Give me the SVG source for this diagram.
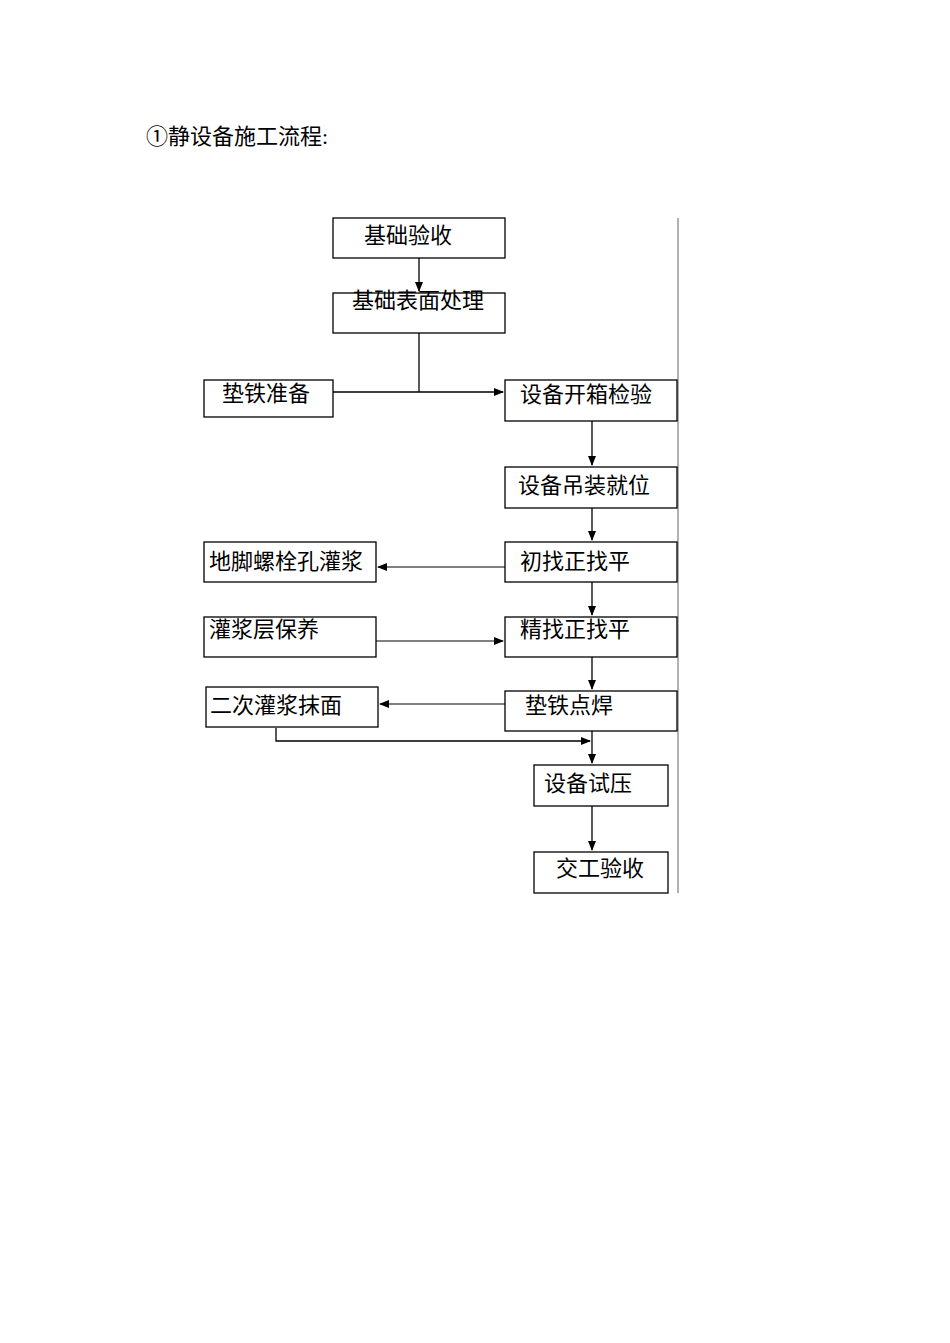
<svg xmlns="http://www.w3.org/2000/svg" width="950" height="1343" viewBox="0 0 950 1343">
<style>
.b{fill:#fff;stroke:#000;stroke-width:1.3}
.t{font-family:"Liberation Serif","Noto Sans CJK SC",serif;font-size:22px;fill:#000}
.c{fill:none;stroke:#000;stroke-width:1.3}
.g{stroke:#555}
</style>
<defs><marker id="a" markerWidth="10" markerHeight="8" refX="9" refY="4" orient="auto" markerUnits="userSpaceOnUse"><path d="M0,0L10,4L0,8z" fill="#000"/></marker></defs>
<rect width="950" height="1343" fill="#fff"/>
<text class="t" x="146" y="144">①静设备施工流程:</text>
<line x1="678" y1="218" x2="678" y2="893" stroke="#999" stroke-width="1.5"/>
<g id="connectors">
<path class="c" d="M419,258V291" marker-end="url(#a)"/>
<path class="c" d="M419,333V392"/>
<path class="c" d="M333,392H503" marker-end="url(#a)"/>
<path class="c" d="M592,421V465" marker-end="url(#a)"/>
<path class="c" d="M592,508V540" marker-end="url(#a)"/>
<path class="c g" d="M505,567H378" marker-end="url(#a)"/>
<path class="c" d="M592,582V615" marker-end="url(#a)"/>
<path class="c g" d="M376,641H503" marker-end="url(#a)"/>
<path class="c" d="M592,657V689" marker-end="url(#a)"/>
<path class="c g" d="M505,704H380" marker-end="url(#a)"/>
<path class="c" d="M276,728V741H590" marker-end="url(#a)"/>
<path class="c" d="M592,731V763" marker-end="url(#a)"/>
<path class="c" d="M592,806V850" marker-end="url(#a)"/>
</g>
<g id="n1"><rect class="b" x="333" y="218" width="172" height="40"/><text class="t" x="364" y="243">基础验收</text></g>
<g id="n2"><rect class="b" x="333" y="293" width="172" height="40"/><text class="t" x="352" y="308">基础表面处理</text></g>
<g id="n3"><rect class="b" x="204" y="380" width="129" height="37"/><text class="t" x="222" y="401">垫铁准备</text></g>
<g id="n4"><rect class="b" x="505" y="380" width="172" height="41"/><text class="t" x="520" y="402">设备开箱检验</text></g>
<g id="n5"><rect class="b" x="505" y="467" width="172" height="41"/><text class="t" x="518" y="493">设备吊装就位</text></g>
<g id="n6"><rect class="b" x="505" y="542" width="172" height="40"/><text class="t" x="520" y="569">初找正找平</text></g>
<g id="n7"><rect class="b" x="204" y="542" width="172" height="40"/><text class="t" x="209" y="569">地脚螺栓孔灌浆</text></g>
<g id="n8"><rect class="b" x="204" y="617" width="172" height="40"/><text class="t" x="209" y="637">灌浆层保养</text></g>
<g id="n9"><rect class="b" x="505" y="617" width="172" height="40"/><text class="t" x="520" y="637">精找正找平</text></g>
<g id="n10"><rect class="b" x="505" y="691" width="172" height="40"/><text class="t" x="525" y="713">垫铁点焊</text></g>
<g id="n11"><rect class="b" x="206" y="687" width="172" height="40"/><text class="t" x="210" y="713">二次灌浆抹面</text></g>
<g id="n12"><rect class="b" x="534" y="765" width="134" height="41"/><text class="t" x="544" y="791">设备试压</text></g>
<g id="n13"><rect class="b" x="534" y="852" width="134" height="41"/><text class="t" x="556" y="876">交工验收</text></g>
</svg>
